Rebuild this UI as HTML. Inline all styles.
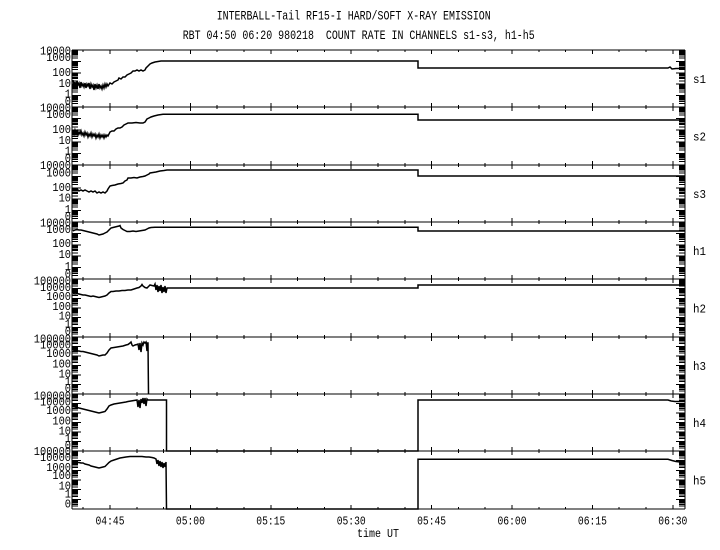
<!DOCTYPE html>
<html><head><meta charset="utf-8"><style>
html,body{margin:0;padding:0;background:#fff;}
svg{display:block;}
text{font-family:"Liberation Mono","DejaVu Sans Mono",monospace;fill:#000;white-space:pre;}
</style></head><body>
<svg width="720" height="550" viewBox="0 0 720 550" xmlns="http://www.w3.org/2000/svg">
<defs>
<g id="dS" stroke="#000" stroke-width="1" shape-rendering="crispEdges">
<line x1="0" y1="0" x2="9" y2="0"/>
<line x1="0" y1="-3.45" x2="6" y2="-3.45"/><line x1="0" y1="-5.46" x2="6" y2="-5.46"/>
<line x1="0" y1="-6.89" x2="6" y2="-6.89"/><line x1="0" y1="-8.0" x2="6" y2="-8.0"/>
<line x1="0" y1="-8.9" x2="6" y2="-8.9"/><line x1="0" y1="-9.67" x2="6" y2="-9.67"/>
<line x1="0" y1="-10.34" x2="6" y2="-10.34"/><line x1="0" y1="-10.92" x2="6" y2="-10.92"/>
</g>
<g id="dSr" stroke="#000" stroke-width="1" shape-rendering="crispEdges">
<line x1="0" y1="0" x2="-9" y2="0"/>
<line x1="0" y1="-3.45" x2="-6" y2="-3.45"/><line x1="0" y1="-5.46" x2="-6" y2="-5.46"/>
<line x1="0" y1="-6.89" x2="-6" y2="-6.89"/><line x1="0" y1="-8.0" x2="-6" y2="-8.0"/>
<line x1="0" y1="-8.9" x2="-6" y2="-8.9"/><line x1="0" y1="-9.67" x2="-6" y2="-9.67"/>
<line x1="0" y1="-10.34" x2="-6" y2="-10.34"/><line x1="0" y1="-10.92" x2="-6" y2="-10.92"/>
</g>
<g id="dH" stroke="#000" stroke-width="1" shape-rendering="crispEdges">
<line x1="0" y1="0" x2="9" y2="0"/>
<line x1="0" y1="-2.88" x2="6" y2="-2.88"/><line x1="0" y1="-4.57" x2="6" y2="-4.57"/>
<line x1="0" y1="-5.76" x2="6" y2="-5.76"/><line x1="0" y1="-6.69" x2="6" y2="-6.69"/>
<line x1="0" y1="-7.45" x2="6" y2="-7.45"/><line x1="0" y1="-8.09" x2="6" y2="-8.09"/>
<line x1="0" y1="-8.64" x2="6" y2="-8.64"/><line x1="0" y1="-9.13" x2="6" y2="-9.13"/>
</g>
<g id="dHr" stroke="#000" stroke-width="1" shape-rendering="crispEdges">
<line x1="0" y1="0" x2="-9" y2="0"/>
<line x1="0" y1="-2.88" x2="-6" y2="-2.88"/><line x1="0" y1="-4.57" x2="-6" y2="-4.57"/>
<line x1="0" y1="-5.76" x2="-6" y2="-5.76"/><line x1="0" y1="-6.69" x2="-6" y2="-6.69"/>
<line x1="0" y1="-7.45" x2="-6" y2="-7.45"/><line x1="0" y1="-8.09" x2="-6" y2="-8.09"/>
<line x1="0" y1="-8.64" x2="-6" y2="-8.64"/><line x1="0" y1="-9.13" x2="-6" y2="-9.13"/>
</g>
<g id="tb" stroke="#000" stroke-width="1" shape-rendering="crispEdges">
<line x1="110" y1="-4" x2="110" y2="4"/><line x1="190.4" y1="-4" x2="190.4" y2="4"/>
<line x1="270.8" y1="-4" x2="270.8" y2="4"/><line x1="351.2" y1="-4" x2="351.2" y2="4"/>
<line x1="431.6" y1="-4" x2="431.6" y2="4"/><line x1="512" y1="-4" x2="512" y2="4"/>
<line x1="592.4" y1="-4" x2="592.4" y2="4"/><line x1="672.8" y1="-4" x2="672.8" y2="4"/>
<line x1="83.2" y1="-2" x2="83.2" y2="2"/><line x1="136.8" y1="-2" x2="136.8" y2="2"/>
<line x1="163.6" y1="-2" x2="163.6" y2="2"/><line x1="217.2" y1="-2" x2="217.2" y2="2"/>
<line x1="244" y1="-2" x2="244" y2="2"/><line x1="297.6" y1="-2" x2="297.6" y2="2"/>
<line x1="324.4" y1="-2" x2="324.4" y2="2"/><line x1="378" y1="-2" x2="378" y2="2"/>
<line x1="404.8" y1="-2" x2="404.8" y2="2"/><line x1="458.4" y1="-2" x2="458.4" y2="2"/>
<line x1="485.2" y1="-2" x2="485.2" y2="2"/><line x1="538.8" y1="-2" x2="538.8" y2="2"/>
<line x1="565.6" y1="-2" x2="565.6" y2="2"/><line x1="619.2" y1="-2" x2="619.2" y2="2"/>
<line x1="646" y1="-2" x2="646" y2="2"/>
</g>
<g id="td" stroke="#000" stroke-width="1" shape-rendering="crispEdges">
<line x1="110" y1="0" x2="110" y2="4"/><line x1="190.4" y1="0" x2="190.4" y2="4"/>
<line x1="270.8" y1="0" x2="270.8" y2="4"/><line x1="351.2" y1="0" x2="351.2" y2="4"/>
<line x1="431.6" y1="0" x2="431.6" y2="4"/><line x1="512" y1="0" x2="512" y2="4"/>
<line x1="592.4" y1="0" x2="592.4" y2="4"/><line x1="672.8" y1="0" x2="672.8" y2="4"/>
<line x1="83.2" y1="0" x2="83.2" y2="2"/><line x1="136.8" y1="0" x2="136.8" y2="2"/>
<line x1="163.6" y1="0" x2="163.6" y2="2"/><line x1="217.2" y1="0" x2="217.2" y2="2"/>
<line x1="244" y1="0" x2="244" y2="2"/><line x1="297.6" y1="0" x2="297.6" y2="2"/>
<line x1="324.4" y1="0" x2="324.4" y2="2"/><line x1="378" y1="0" x2="378" y2="2"/>
<line x1="404.8" y1="0" x2="404.8" y2="2"/><line x1="458.4" y1="0" x2="458.4" y2="2"/>
<line x1="485.2" y1="0" x2="485.2" y2="2"/><line x1="538.8" y1="0" x2="538.8" y2="2"/>
<line x1="565.6" y1="0" x2="565.6" y2="2"/><line x1="619.2" y1="0" x2="619.2" y2="2"/>
<line x1="646" y1="0" x2="646" y2="2"/>
</g>
<g id="tu" stroke="#000" stroke-width="1" shape-rendering="crispEdges">
<line x1="110" y1="0" x2="110" y2="-4"/><line x1="190.4" y1="0" x2="190.4" y2="-4"/>
<line x1="270.8" y1="0" x2="270.8" y2="-4"/><line x1="351.2" y1="0" x2="351.2" y2="-4"/>
<line x1="431.6" y1="0" x2="431.6" y2="-4"/><line x1="512" y1="0" x2="512" y2="-4"/>
<line x1="592.4" y1="0" x2="592.4" y2="-4"/><line x1="672.8" y1="0" x2="672.8" y2="-4"/>
<line x1="83.2" y1="0" x2="83.2" y2="-2"/><line x1="136.8" y1="0" x2="136.8" y2="-2"/>
<line x1="163.6" y1="0" x2="163.6" y2="-2"/><line x1="217.2" y1="0" x2="217.2" y2="-2"/>
<line x1="244" y1="0" x2="244" y2="-2"/><line x1="297.6" y1="0" x2="297.6" y2="-2"/>
<line x1="324.4" y1="0" x2="324.4" y2="-2"/><line x1="378" y1="0" x2="378" y2="-2"/>
<line x1="404.8" y1="0" x2="404.8" y2="-2"/><line x1="458.4" y1="0" x2="458.4" y2="-2"/>
<line x1="485.2" y1="0" x2="485.2" y2="-2"/><line x1="538.8" y1="0" x2="538.8" y2="-2"/>
<line x1="565.6" y1="0" x2="565.6" y2="-2"/><line x1="619.2" y1="0" x2="619.2" y2="-2"/>
<line x1="646" y1="0" x2="646" y2="-2"/>
</g>
</defs>

<rect x="0" y="0" width="720" height="550" fill="#fff"/>

<!-- titles -->
<text x="216.7" y="19.3" font-size="13" textLength="274" lengthAdjust="spacingAndGlyphs">INTERBALL-Tail RF15-I HARD/SOFT X-RAY EMISSION</text>
<text x="182.7" y="39" font-size="13" textLength="352" lengthAdjust="spacingAndGlyphs">RBT 04:50 06:20 980218  COUNT RATE IN CHANNELS s1-s3, h1-h5</text>

<!-- frame -->
<g stroke="#000" stroke-width="1" shape-rendering="crispEdges" fill="none">
<line x1="72" y1="50" x2="72" y2="509"/>
<line x1="685" y1="50" x2="685" y2="509"/>
<line x1="72" y1="50" x2="685" y2="50"/>
<line x1="72" y1="107" x2="685" y2="107"/>
<line x1="72" y1="165" x2="685" y2="165"/>
<line x1="72" y1="222" x2="685" y2="222"/>
<line x1="72" y1="279" x2="685" y2="279"/>
<line x1="72" y1="337" x2="685" y2="337"/>
<line x1="72" y1="394" x2="685" y2="394"/>
<line x1="72" y1="451" x2="685" y2="451"/>
<line x1="72" y1="509" x2="685" y2="509"/>
</g>

<!-- time ticks -->
<use href="#td" x="0" y="50"/>
<use href="#tb" x="0" y="107"/>
<use href="#tb" x="0" y="165"/>
<use href="#tb" x="0" y="222"/>
<use href="#tb" x="0" y="279"/>
<use href="#tb" x="0" y="337"/>
<use href="#tb" x="0" y="394"/>
<use href="#tb" x="0" y="451"/>
<use href="#tu" x="0" y="509"/>

<!-- log ticks: s1 -->
<use href="#dS" x="72" y="107"/><use href="#dS" x="72" y="95.6"/><use href="#dS" x="72" y="84.2"/><use href="#dS" x="72" y="72.8"/><use href="#dS" x="72" y="61.4"/>
<use href="#dSr" x="685" y="107"/><use href="#dSr" x="685" y="95.6"/><use href="#dSr" x="685" y="84.2"/><use href="#dSr" x="685" y="72.8"/><use href="#dSr" x="685" y="61.4"/>
<!-- s2 -->
<use href="#dS" x="72" y="165"/><use href="#dS" x="72" y="153.4"/><use href="#dS" x="72" y="141.8"/><use href="#dS" x="72" y="130.2"/><use href="#dS" x="72" y="118.6"/>
<use href="#dSr" x="685" y="165"/><use href="#dSr" x="685" y="153.4"/><use href="#dSr" x="685" y="141.8"/><use href="#dSr" x="685" y="130.2"/><use href="#dSr" x="685" y="118.6"/>
<!-- s3 -->
<use href="#dS" x="72" y="222"/><use href="#dS" x="72" y="210.6"/><use href="#dS" x="72" y="199.2"/><use href="#dS" x="72" y="187.8"/><use href="#dS" x="72" y="176.4"/>
<use href="#dSr" x="685" y="222"/><use href="#dSr" x="685" y="210.6"/><use href="#dSr" x="685" y="199.2"/><use href="#dSr" x="685" y="187.8"/><use href="#dSr" x="685" y="176.4"/>
<!-- h1 -->
<use href="#dS" x="72" y="279"/><use href="#dS" x="72" y="267.6"/><use href="#dS" x="72" y="256.2"/><use href="#dS" x="72" y="244.8"/><use href="#dS" x="72" y="233.4"/>
<use href="#dSr" x="685" y="279"/><use href="#dSr" x="685" y="267.6"/><use href="#dSr" x="685" y="256.2"/><use href="#dSr" x="685" y="244.8"/><use href="#dSr" x="685" y="233.4"/>
<!-- h2 -->
<use href="#dH" x="72" y="337"/><use href="#dH" x="72" y="327.33"/><use href="#dH" x="72" y="317.67"/><use href="#dH" x="72" y="308"/><use href="#dH" x="72" y="298.33"/><use href="#dH" x="72" y="288.67"/>
<use href="#dHr" x="685" y="337"/><use href="#dHr" x="685" y="327.33"/><use href="#dHr" x="685" y="317.67"/><use href="#dHr" x="685" y="308"/><use href="#dHr" x="685" y="298.33"/><use href="#dHr" x="685" y="288.67"/>
<!-- h3 -->
<use href="#dH" x="72" y="394"/><use href="#dH" x="72" y="384.5"/><use href="#dH" x="72" y="375"/><use href="#dH" x="72" y="365.5"/><use href="#dH" x="72" y="356"/><use href="#dH" x="72" y="346.5"/>
<use href="#dHr" x="685" y="394"/><use href="#dHr" x="685" y="384.5"/><use href="#dHr" x="685" y="375"/><use href="#dHr" x="685" y="365.5"/><use href="#dHr" x="685" y="356"/><use href="#dHr" x="685" y="346.5"/>
<!-- h4 -->
<use href="#dH" x="72" y="451"/><use href="#dH" x="72" y="441.5"/><use href="#dH" x="72" y="432"/><use href="#dH" x="72" y="422.5"/><use href="#dH" x="72" y="413"/><use href="#dH" x="72" y="403.5"/>
<use href="#dHr" x="685" y="451"/><use href="#dHr" x="685" y="441.5"/><use href="#dHr" x="685" y="432"/><use href="#dHr" x="685" y="422.5"/><use href="#dHr" x="685" y="413"/><use href="#dHr" x="685" y="403.5"/>
<!-- h5 -->
<use href="#dH" x="72" y="509"/><use href="#dH" x="72" y="499.33"/><use href="#dH" x="72" y="489.67"/><use href="#dH" x="72" y="480"/><use href="#dH" x="72" y="470.33"/><use href="#dH" x="72" y="460.67"/>
<use href="#dHr" x="685" y="509"/><use href="#dHr" x="685" y="499.33"/><use href="#dHr" x="685" y="489.67"/><use href="#dHr" x="685" y="480"/><use href="#dHr" x="685" y="470.33"/><use href="#dHr" x="685" y="460.67"/>

<!-- y labels -->
<g font-size="12">
<!-- s1 T=50 -->
<text x="40" y="54.5" textLength="31" lengthAdjust="spacingAndGlyphs">10000</text>
<text x="46.2" y="61" textLength="24.8" lengthAdjust="spacingAndGlyphs">1000</text>
<text x="52.4" y="76" textLength="18.6" lengthAdjust="spacingAndGlyphs">100</text>
<text x="58.6" y="87" textLength="12.4" lengthAdjust="spacingAndGlyphs">10</text>
<text x="64.8" y="97.5" textLength="6.2" lengthAdjust="spacingAndGlyphs">1</text>
<text x="64.8" y="105" textLength="6.2" lengthAdjust="spacingAndGlyphs">0</text>
<!-- s2 T=107 -->
<text x="40" y="111.5" textLength="31" lengthAdjust="spacingAndGlyphs">10000</text>
<text x="46.2" y="118" textLength="24.8" lengthAdjust="spacingAndGlyphs">1000</text>
<text x="52.4" y="133" textLength="18.6" lengthAdjust="spacingAndGlyphs">100</text>
<text x="58.6" y="144" textLength="12.4" lengthAdjust="spacingAndGlyphs">10</text>
<text x="64.8" y="154.5" textLength="6.2" lengthAdjust="spacingAndGlyphs">1</text>
<text x="64.8" y="162" textLength="6.2" lengthAdjust="spacingAndGlyphs">0</text>
<!-- s3 T=165 -->
<text x="40" y="169" textLength="31" lengthAdjust="spacingAndGlyphs">10000</text>
<text x="46.2" y="176.5" textLength="24.8" lengthAdjust="spacingAndGlyphs">1000</text>
<text x="52.4" y="191" textLength="18.6" lengthAdjust="spacingAndGlyphs">100</text>
<text x="58.6" y="201.5" textLength="12.4" lengthAdjust="spacingAndGlyphs">10</text>
<text x="64.8" y="213" textLength="6.2" lengthAdjust="spacingAndGlyphs">1</text>
<text x="64.8" y="220" textLength="6.2" lengthAdjust="spacingAndGlyphs">0</text>
<!-- h1 T=222 -->
<text x="40" y="226.5" textLength="31" lengthAdjust="spacingAndGlyphs">10000</text>
<text x="46.2" y="233" textLength="24.8" lengthAdjust="spacingAndGlyphs">1000</text>
<text x="52.4" y="247" textLength="18.6" lengthAdjust="spacingAndGlyphs">100</text>
<text x="58.6" y="258" textLength="12.4" lengthAdjust="spacingAndGlyphs">10</text>
<text x="64.8" y="270" textLength="6.2" lengthAdjust="spacingAndGlyphs">1</text>
<text x="64.8" y="277.5" textLength="6.2" lengthAdjust="spacingAndGlyphs">0</text>
<!-- h2 T=279 -->
<text x="33.8" y="284.5" textLength="37.2" lengthAdjust="spacingAndGlyphs">100000</text>
<text x="40" y="291" textLength="31" lengthAdjust="spacingAndGlyphs">10000</text>
<text x="46.2" y="300" textLength="24.8" lengthAdjust="spacingAndGlyphs">1000</text>
<text x="52.4" y="310" textLength="18.6" lengthAdjust="spacingAndGlyphs">100</text>
<text x="58.6" y="319.5" textLength="12.4" lengthAdjust="spacingAndGlyphs">10</text>
<text x="64.8" y="327.5" textLength="6.2" lengthAdjust="spacingAndGlyphs">1</text>
<text x="64.8" y="335" textLength="6.2" lengthAdjust="spacingAndGlyphs">0</text>
<!-- h3 T=337 -->
<text x="33.8" y="342.5" textLength="37.2" lengthAdjust="spacingAndGlyphs">100000</text>
<text x="40" y="348.5" textLength="31" lengthAdjust="spacingAndGlyphs">10000</text>
<text x="46.2" y="357" textLength="24.8" lengthAdjust="spacingAndGlyphs">1000</text>
<text x="52.4" y="367.5" textLength="18.6" lengthAdjust="spacingAndGlyphs">100</text>
<text x="58.6" y="377.5" textLength="12.4" lengthAdjust="spacingAndGlyphs">10</text>
<text x="64.8" y="385" textLength="6.2" lengthAdjust="spacingAndGlyphs">1</text>
<text x="64.8" y="392" textLength="6.2" lengthAdjust="spacingAndGlyphs">0</text>
<!-- h4 T=394 -->
<text x="33.8" y="399.5" textLength="37.2" lengthAdjust="spacingAndGlyphs">100000</text>
<text x="40" y="405.5" textLength="31" lengthAdjust="spacingAndGlyphs">10000</text>
<text x="46.2" y="414" textLength="24.8" lengthAdjust="spacingAndGlyphs">1000</text>
<text x="52.4" y="424.5" textLength="18.6" lengthAdjust="spacingAndGlyphs">100</text>
<text x="58.6" y="434.5" textLength="12.4" lengthAdjust="spacingAndGlyphs">10</text>
<text x="64.8" y="442" textLength="6.2" lengthAdjust="spacingAndGlyphs">1</text>
<text x="64.8" y="449" textLength="6.2" lengthAdjust="spacingAndGlyphs">0</text>
<!-- h5 T=451 -->
<text x="33.8" y="455" textLength="37.2" lengthAdjust="spacingAndGlyphs">100000</text>
<text x="40" y="461" textLength="31" lengthAdjust="spacingAndGlyphs">10000</text>
<text x="46.2" y="471" textLength="24.8" lengthAdjust="spacingAndGlyphs">1000</text>
<text x="52.4" y="479" textLength="18.6" lengthAdjust="spacingAndGlyphs">100</text>
<text x="58.6" y="489.5" textLength="12.4" lengthAdjust="spacingAndGlyphs">10</text>
<text x="64.8" y="497.5" textLength="6.2" lengthAdjust="spacingAndGlyphs">1</text>
<text x="64.8" y="507.5" textLength="6.2" lengthAdjust="spacingAndGlyphs">0</text>
</g>

<!-- right channel labels -->
<g font-size="12">
<text x="693" y="83" textLength="13" lengthAdjust="spacingAndGlyphs">s1</text>
<text x="693" y="140.5" textLength="13" lengthAdjust="spacingAndGlyphs">s2</text>
<text x="693" y="198" textLength="13" lengthAdjust="spacingAndGlyphs">s3</text>
<text x="693" y="255" textLength="13" lengthAdjust="spacingAndGlyphs">h1</text>
<text x="693" y="312.5" textLength="13" lengthAdjust="spacingAndGlyphs">h2</text>
<text x="693" y="370" textLength="13" lengthAdjust="spacingAndGlyphs">h3</text>
<text x="693" y="427" textLength="13" lengthAdjust="spacingAndGlyphs">h4</text>
<text x="693" y="484.5" textLength="13" lengthAdjust="spacingAndGlyphs">h5</text>
</g>

<!-- time labels -->
<g font-size="12">
<text x="95.5" y="524.5" textLength="29" lengthAdjust="spacingAndGlyphs">04:45</text>
<text x="175.9" y="524.5" textLength="29" lengthAdjust="spacingAndGlyphs">05:00</text>
<text x="256.3" y="524.5" textLength="29" lengthAdjust="spacingAndGlyphs">05:15</text>
<text x="336.7" y="524.5" textLength="29" lengthAdjust="spacingAndGlyphs">05:30</text>
<text x="417.1" y="524.5" textLength="29" lengthAdjust="spacingAndGlyphs">05:45</text>
<text x="497.5" y="524.5" textLength="29" lengthAdjust="spacingAndGlyphs">06:00</text>
<text x="577.9" y="524.5" textLength="29" lengthAdjust="spacingAndGlyphs">06:15</text>
<text x="658.3" y="524.5" textLength="29" lengthAdjust="spacingAndGlyphs">06:30</text>
<text x="357" y="537" textLength="42" lengthAdjust="spacingAndGlyphs">time UT</text>
</g>

<!-- data -->
<g fill="none" stroke="#000" stroke-width="1.5" stroke-linejoin="miter">
<!-- s1 -->
<polyline points="73,80 74,86 75,82 76,87 77,81 78,85 79,83 80,88 81,82 82,86 83,84 84,87 85,83 86,88 87,84 88,86 89,83 90,89 91,84 92,87 93,85 94,90 95,84 96,88 97,85 98,89 99,84 100,88 101,86 102,89 103,85 104,88 105,84 106,87 107,84 108,86 110,83 112,84 114,82 116,81 118,80 119,78 121,79 123,77 125,77 127,75 129,74 131,73 133,71 135,71 137,70 139,71 141,70 143,71 145,70 146,68 148,66 150,64 152,63 155,62 158,61.5 161,61 418,61 418,68 668,68 670,67 672,69 676,68.5 685,68.5"/>
<!-- s2 -->
<polyline points="73,131 74,134 75,130 76,133 77,131 78,135 79,132 80,134 81,131 82,135 83,133 84,136 85,132 86,135 87,133 88,137 89,134 90,136 91,133 92,137 93,134 94,136 95,134 96,138 97,135 98,137 99,134 100,138 101,135 102,137 103,135 104,138 105,135 106,137 107,135 108,136 110,132 112,131 114,131 116,129 118,128 120,128 122,127 124,125 126,124 128,123 132,123 136,122.5 140,123 143,123 145,122 147,119 149,118 151,117 154,116 158,115 163,114.3 418,114.3 418,120 685,120"/>
<!-- s3 -->
<polyline points="73,188 75,190 77,189 79,191 81,190 83,191 85,190 87,191 89,192 91,191 93,192 95,191 97,193 99,192 101,193 103,192 105,193 107,191 108,189 110,186 112,185.5 115,185 118,184 121,183.5 123,183 125,181 127,180 128,178 131,178 134,177.5 137,178 140,177 143,176.5 145,176 147,175 149,174 150,173 153,172.5 156,172 160,171 164,170.5 167,170 418,170 418,176 685,176"/>
<!-- h1 -->
<polyline points="73,231 75,230 77,229.5 79,230 81,230 83,230.5 85,231 87,231.5 89,232 91,232.5 93,233 95,233.5 97,234 99,235 101,234.5 103,234 105,233 107,232 109,230 111,228 113,227.5 115,227 117,226.5 119,226 120,225.5 121,228 123,229.5 125,230.5 127,231.5 130,231.5 133,231 136,231.5 139,231 142,230.5 145,230 147,229 149,228 151,227.5 155,227.3 160,227.3 418,227.3 418,231 685,231"/>
<!-- h2 -->
<polyline points="73,293 75,294 77,293.5 79,294 81,294.5 83,295 85,295 87,295.5 89,296 91,296.5 93,296 95,296.5 97,297 99,297.5 101,297 103,296.5 105,296 107,295 109,293 111,291.5 113,291.5 116,291 119,291 122,290.5 125,290.5 128,290 131,290 134,289 137,288 139,287.5 141,286 142,284.5 143,286 145,287.5 147,288 149,286 150,285 152,285.5 154,286 155,284 156,290 157,285 158,292 159,286 160,291 161,285 162,293 163,287 164,292 165,286 166,293 167,288 170,288 418,288 418,285 685,285"/>
<!-- h3 -->
<polyline points="73,350 75,350.5 77,351 79,351 81,351.5 83,351.5 85,352 87,352.5 89,353 91,353.5 93,354 95,354.5 97,355 99,356 101,355.5 103,355 105,355 107,353 109,350 111,348 114,347.5 117,347 120,346.5 123,346 126,345 128,344.5 130,343 131,342 132,345 133,346 135,345 137,344.5 138,344 139,350 140,343 141,352 142,343 143,345 144,342 145,343 146,342 147,351 147.5,343 148,343 148.5,394"/>
<!-- h4 -->
<polyline points="73,406.5 75,407 77,407.5 79,408 81,408.5 83,409 85,409.5 87,410 89,410.5 91,411 93,411.5 95,412 97,412.5 99,413 101,412.5 103,412 105,411.5 107,409 109,406 111,405 114,404 117,403.5 120,403 123,402.5 126,402 128,401.5 131,401 134,400.5 137,400 138,407 139,400 140,408 141,399 142,403 143,398 144,404 145,398 146,406 147,399 148,400 166.5,400 166.5,451 418,451 418,400 668,400 671,401 675,401.5 685,401.5"/>
<!-- h5 -->
<polyline points="73,461.5 75,462 77,462.5 79,462.5 81,463 83,463 85,464 87,464.5 89,465 91,466 93,466.5 95,467 97,467.5 99,468 101,467.5 103,467 105,466.5 107,464.5 109,462.5 111,461 114,460 117,459 120,458 123,457.5 126,457 130,456.5 134,456.5 138,456.5 142,456.5 146,457 149,457 152,457.5 154,458 156,459 157,464 158,460 159,466 160,461 161,467 162,462 163,468 164,463 165,467 166,462 166.5,509 418,509 418,459.3 668,459.3 672,460.5 676,461.5 680,462 685,462"/>
</g>
</svg>
</body></html>
